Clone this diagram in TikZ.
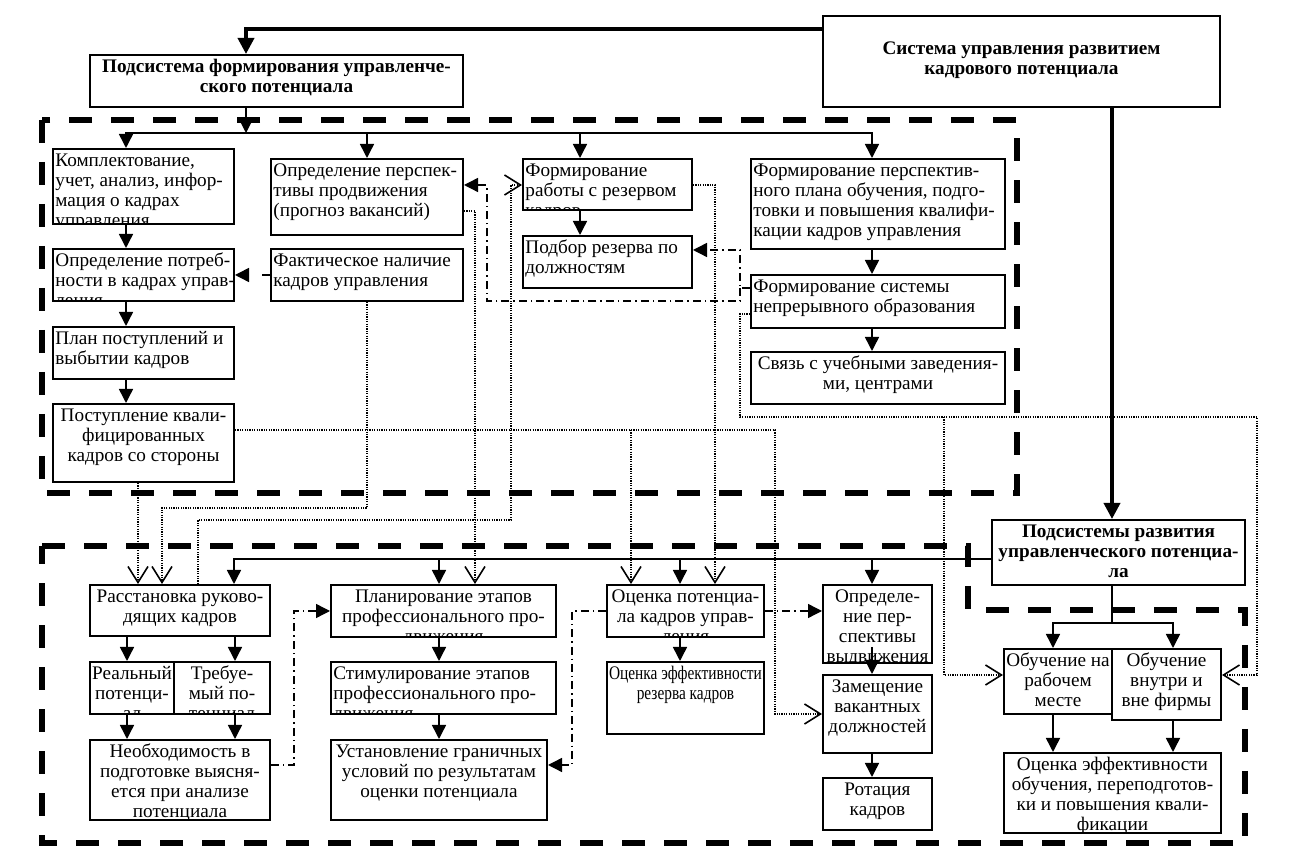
\documentclass[tikz,border=0pt]{standalone}
\usepackage{fontspec}
\setmainfont{Liberation Serif}
\usepackage{graphicx}
\usetikzlibrary{arrows.meta,fit}
\tikzset{
  nbox/.style={draw, line width=1pt, inner sep=0pt},
  txt/.style={inner xsep=1pt, inner ysep=1.5pt, font=\fontsize{9.6}{10.1}\selectfont},
  conn/.style={line width=0.75pt},
  arr/.style={conn, -{Triangle[length=7pt,width=7pt]}},
  thk/.style={line width=1.8pt, -{Triangle[length=8pt,width=8pt]}},
  dotl/.style={line width=0.6pt, dash pattern=on 0.6pt off 0.6pt},
  oarr/.style={dotl, -{Straight Barb[length=8pt,width=10pt,line width=0.8pt]}},
  dd/.style={line width=0.7pt, dash pattern=on 4pt off 2pt on 0.7pt off 2pt},
  ddarr/.style={dd, -{Triangle[length=7pt,width=7pt]}},
  dframe/.style={line width=2.6pt, dash pattern=on 11.5pt off 9.5pt},
}
\newcommand\bxl[6]{%
  \node[nbox, fit={(#2,#3)(#4,#5)}] (#1) {};
  \begin{scope}
    \clip (#2,#3) rectangle (#4,#5);
    \node[txt, anchor=north west, align=left] (#1t) at (#2,#3) {\rule{0pt}{7pt}#6};
  \end{scope}}
\newcommand\bxc[6]{%
  \node[nbox, fit={(#2,#3)(#4,#5)}] (#1) {};
  \begin{scope}
    \clip (#2,#3) rectangle (#4,#5);
    \node[txt, anchor=north, align=center] (#1t) at ({(#2+#4)/2},#3) {\rule{0pt}{7pt}#6};
  \end{scope}}
\begin{document}
\begin{tikzpicture}[x=0.5pt,y=-0.5pt]
\fill[white] (0,0) rectangle (1314,860);
\useasboundingbox (0,0) rectangle (1314,860);
% dashed frames
\draw[dframe] (42,120) rectangle (1017,493);
\draw[dframe] (42,546) -- (968,546) -- (968,610) -- (1245,610) -- (1245,843) -- (42,843) -- cycle;
% top boxes
\node[nbox, fit={(823,16)(1220,107)}] (sys) {};
\node[txt, align=center, font=\fontsize{9.6}{10.1}\selectfont\bfseries] (syst) at ([yshift=0.5pt]sys.center) {Система управления развитием\\кадрового потенциала};
\bxc{pf}{90}{55}{463}{107}{\bfseries Подсистема формирования управленче-\\\bfseries ского потенциала}
% upper area
\bxl{komp}{53}{149}{234}{224}{Комплектование,\\учет, анализ, инфор-\\мация о кадрах\\управления}
\bxl{opp}{271}{159}{463}{235}{Определение перспек-\\тивы продвижения\\(прогноз вакансий)}
\bxl{fr}{523}{159}{692}{210}{Формирование\\работы с резервом\\кадров}
\bxl{fpp}{751}{159}{1005}{249}{Формирование перспектив-\\ного плана обучения, подго-\\товки и повышения квалифи-\\кации кадров управления}
\bxl{potr}{53}{249}{234}{301}{Определение потреб-\\ности в кадрах управ-\\ления}
\bxl{fakt}{271}{249}{463}{301}{Фактическое наличие\\кадров управления}
\bxl{podb}{523}{236}{692}{288}{Подбор резерва по\\должностям}
\bxl{fs}{751}{275}{1005}{328}{Формирование системы\\непрерывного образования}
\bxl{plan}{53}{327}{234}{379}{План поступлений и\\выбытии кадров}
\bxc{svz}{751}{352}{1005}{404}{Связь с учебными заведения-\\ми, центрами}
\bxc{post}{53}{404}{234}{482}{Поступление квали-\\фицированных\\кадров со стороны}
% lower area
\bxc{pr}{992}{520}{1245}{585}{\bfseries Подсистемы развития\\\bfseries управленческого потенциа-\\\bfseries ла}
\bxc{ras}{90}{585}{270}{636}{Расстановка руково-\\дящих кадров}
\bxc{real}{90}{662}{174}{714}{Реальный\\потенци-\\ал}
\bxc{treb}{174}{662}{270}{714}{Требуе-\\мый по-\\тенциал}
\bxc{neob}{90}{740}{270}{820}{Необходимость в\\подготовке выясня-\\ется при анализе\\потенциала}
\bxc{planir}{331}{585}{556}{637}{Планирование этапов\\профессионального про-\\движения}
\bxl{stim}{331}{662}{556}{714}{Стимулирование этапов\\профессионального про-\\движения}
\bxc{ustan}{331}{740}{547}{820}{Установление граничных\\условий по результатам\\оценки потенциала}
\bxc{ocp}{607}{585}{764}{637}{Оценка потенциа-\\ла кадров управ-\\ления}
\bxc{oer}{607}{662}{764}{734}{\scalebox{0.8}[1]{Оценка эффективности}\\\scalebox{0.8}[1]{резерва кадров}}
\bxc{opv}{823}{585}{932}{663}{Определе-\\ние пер-\\спективы\\выдвижения}
\bxc{zam}{823}{675}{932}{753}{Замещение\\вакантных\\должностей}
\bxc{rot}{823}{778}{932}{830}{Ротация\\кадров}
\bxc{obr}{1004}{649}{1112}{714}{Обучение на\\рабочем\\месте}
\bxc{obv}{1112}{649}{1221}{720}{Обучение\\внутри и\\вне фирмы}
\bxc{oeo}{1004}{753}{1221}{833}{Оценка эффективности\\обучения, переподготов-\\ки и повышения квали-\\фикации}
% thick connectors
\draw[thk] (sys.west |- 0,29) -| (pf.north -| 246,0);
\draw[thk] (sys.south -| 1112,0) -- (pr.north -| 1112,0);
% upper bus
\coordinate (bus1) at (246,133);
\draw[arr] (pf.south -| bus1) -- (bus1);
\draw[arr] (bus1) -| (komp.north -| 126,0);
\draw[arr] (bus1) -| (opp.north -| 367,0);
\draw[arr] (bus1) -| (fr.north -| 580,0);
\draw[arr] (bus1) -| (fpp.north -| 872,0);
\draw[arr] (komp.south -| 126,0) -- (potr.north -| 126,0);
\draw[arr] (potr.south -| 126,0) -- (plan.north -| 126,0);
\draw[arr] (plan.south -| 126,0) -- (post.north -| 126,0);
\draw[conn, dash pattern=on 4pt off 8pt, -{Triangle[length=7pt,width=7pt]}] (fakt.west |- 0,275) -- (potr.east |- 0,275);
\draw[arr] (fr.south -| 580,0) -- (podb.north -| 580,0);
\draw[arr] (fpp.south -| 872,0) -- (fs.north -| 872,0);
\draw[arr] (fs.south -| 872,0) -- (svz.north -| 872,0);
% dotted connectors
\draw[oarr] (post.south -| 138,0) -- (ras.north -| 138,0);
\draw[oarr] (fakt.south -| 367,0) |- (162,508) -- (ras.north -| 162,0);
\draw[oarr] (ras.north -| 198,0) |- (511,520) |- (fr.west |- 0,185);
\draw[oarr] (opp.east |- 0,211) -| (planir.north -| 475,0);
\draw[oarr] (post.east |- 0,430) -| (775,714) -- (zam.west |- 0,714);
\draw[oarr] (631,430) -- (ocp.north -| 631,0);
\draw[oarr] (fr.east |- 0,185) -| (ocp.north -| 715,0);
\draw[oarr] (fs.west |- 0,314) -| (740,417) -| (1257,675) -- (obv.east |- 0,675);
\draw[oarr] (944,417) |- (obr.west |- 0,675);
% dash-dot connectors
\draw[ddarr] (fs.west |- 0,288) -| (740,250) -- (podb.east |- 0,250);
\draw[ddarr] (740,288) |- (487,301) |- (opp.east |- 0,185);
\draw[ddarr] (neob.east |- 0,765) -| (294,611) -- (planir.west |- 0,611);
\draw[ddarr] (ocp.west |- 0,611) -| (572,765) -- (ustan.east |- 0,765);
\draw[ddarr] (ocp.east |- 0,611) -- (opv.west |- 0,611);
% lower bus
\coordinate (bus2) at (pr.west |- 0,559);
\draw[arr] (bus2) -| (ras.north -| 234,0);
\draw[arr] (bus2) -| (planir.north -| 439,0);
\draw[arr] (bus2) -| (ocp.north -| 680,0);
\draw[arr] (bus2) -| (opv.north -| 872,0);
\draw[arr] (ras.south -| 127,0) -- (real.north -| 127,0);
\draw[arr] (ras.south -| 235,0) -- (treb.north -| 235,0);
\draw[arr] (real.south -| 127,0) -- (neob.north -| 127,0);
\draw[arr] (treb.south -| 235,0) -- (neob.north -| 235,0);
\draw[arr] (planir.south -| 439,0) -- (stim.north -| 439,0);
\draw[arr] (stim.south -| 439,0) -- (ustan.north -| 439,0);
\draw[arr] (ocp.south -| 680,0) -- (oer.north -| 680,0);
\coordinate (opvin) at (872,647);
\draw[arr] (opvin) -- (zam.north -| opvin);
\draw[arr] (zam.south -| 872,0) -- (rot.north -| 872,0);
\coordinate (bus3) at (1112,623);
\draw[conn] (pr.south -| bus3) -- (bus3);
\draw[arr] (bus3) -| (obr.north -| 1053,0);
\draw[arr] (bus3) -| (obv.north -| 1173,0);
\draw[arr] (obr.south -| 1053,0) -- (oeo.north -| 1053,0);
\draw[arr] (obv.south -| 1173,0) -- (oeo.north -| 1173,0);
\end{tikzpicture}
\end{document}
